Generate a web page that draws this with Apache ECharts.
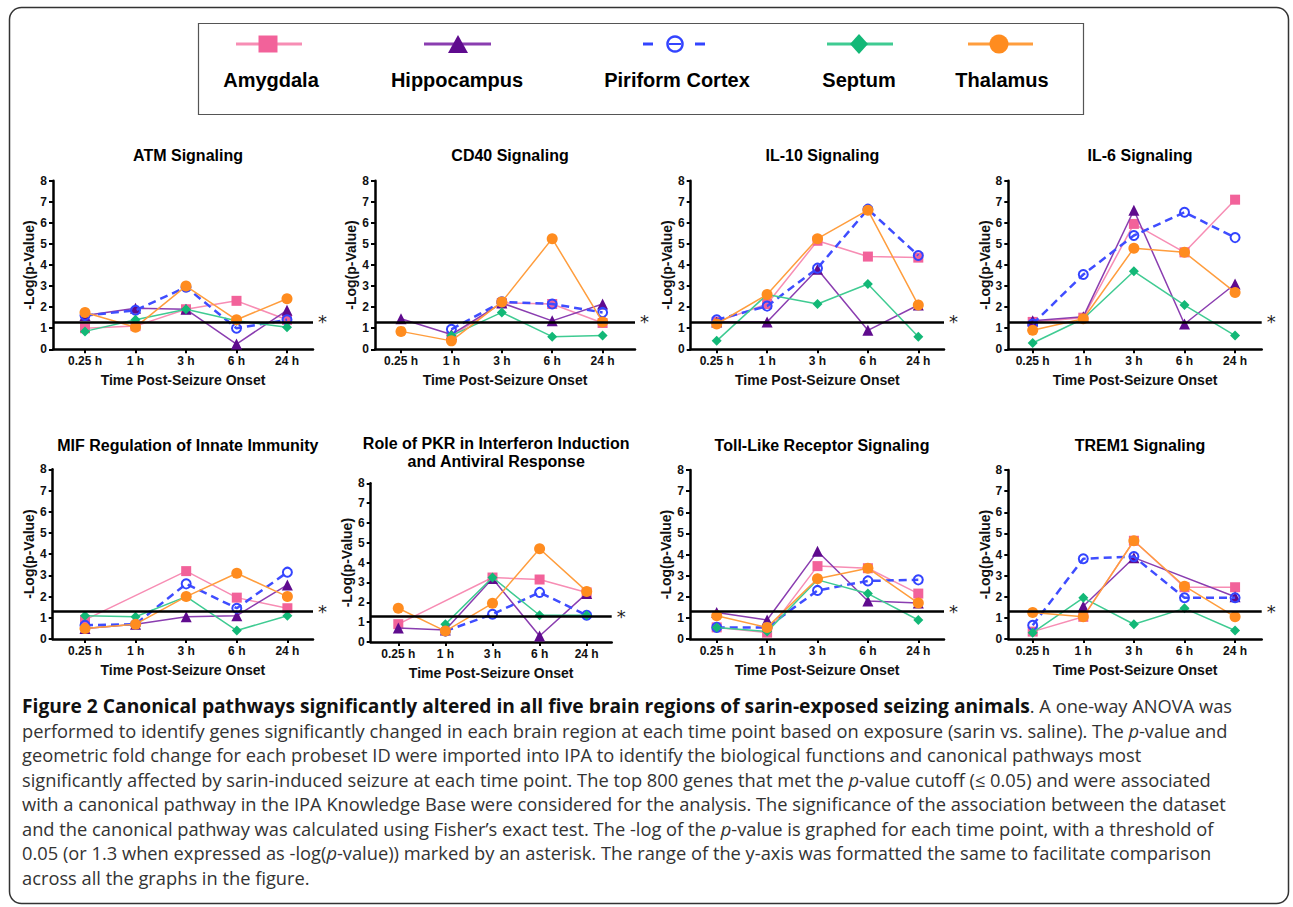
<!DOCTYPE html>
<html><head><meta charset="utf-8">
<script src="https://cdn.jsdelivr.net/npm/echarts@6/dist/echarts.min.js"></script>
<style>html,body{margin:0;padding:0;background:#fff;}#chart{width:1293px;height:907px;}</style>
</head><body><div id="chart"></div>
<script>
const timeLabels = ['0.25 h', '1 h', '3 h', '6 h', '24 h'];
const regionNames = ['Amygdala', 'Hippocampus', 'Piriform Cortex', 'Septum', 'Thalamus'];
const yTickLabels = ['0', '1', '2', '3', '4', '5', '6', '7', '8'];
const thresholdValue = 1.3;
const panelTitles = ['ATM Signaling', 'CD40 Signaling', 'IL-10 Signaling', 'IL-6 Signaling',
  'MIF Regulation of Innate Immunity', 'Role of PKR in Interferon Induction\nand Antiviral Response',
  'Toll-Like Receptor Signaling', 'TREM1 Signaling'];
const xAxisTitle = 'Time Post-Seizure Onset';
const yAxisTitle = '-Log(p-Value)';

// row order: Amygdala, Hippocampus, Piriform Cortex, Septum, Thalamus
const atmSignaling = [
  [1.0, 1.1, 1.9, 2.3, 1.4],
  [1.6, 1.95, 1.9, 0.25, 1.85],
  [1.6, 1.85, 2.95, 1.0, 1.4],
  [0.85, 1.4, 1.9, 1.35, 1.05],
  [1.75, 1.05, 3.0, 1.4, 2.4]
];
const cd40Signaling = [
  [null, 0.6, 2.2, 2.15, 1.25],
  [1.45, 0.7, 2.2, 1.35, 2.15],
  [null, 0.95, 2.25, 2.15, 1.75],
  [null, 0.65, 1.75, 0.6, 0.65],
  [0.85, 0.4, 2.25, 5.25, 1.3]
];
const il10Signaling = [
  [1.3, 2.15, 5.15, 4.4, 4.35],
  [1.3, 1.3, 3.8, 0.9, 2.1],
  [1.4, 2.05, 3.85, 6.65, 4.45],
  [0.4, 2.6, 2.15, 3.1, 0.6],
  [1.2, 2.6, 5.25, 6.6, 2.1]
];
const il6Signaling = [
  [1.3, 1.5, 5.95, 4.6, 7.1],
  [1.35, 1.55, 6.6, 1.2, 3.1],
  [1.2, 3.55, 5.4, 6.5, 5.3],
  [0.3, 1.45, 3.7, 2.1, 0.65],
  [0.9, 1.45, 4.8, 4.6, 2.7]
];
const mifRegulation = [
  [0.9, null, 3.2, 1.95, 1.45],
  [0.5, 0.7, 1.05, 1.1, 2.55],
  [0.65, 0.7, 2.6, 1.45, 3.15],
  [1.1, 1.05, 2.0, 0.4, 1.1],
  [0.5, 0.7, 2.0, 3.1, 2.0]
];
const pkrRole = [
  [0.9, null, 3.25, 3.15, 2.5],
  [0.7, 0.6, 3.2, 0.3, 2.45],
  [null, 0.55, 1.4, 2.5, 1.35],
  [null, 0.9, 3.25, 1.35, 1.35],
  [1.7, 0.55, 1.95, 4.7, 2.55]
];
const tollLikeReceptor = [
  [0.55, 0.3, 3.45, 3.35, 2.15],
  [1.25, 0.9, 4.15, 1.8, 1.7],
  [0.55, 0.55, 2.3, 2.75, 2.8],
  [0.55, 0.35, 2.8, 2.15, 0.9],
  [1.1, 0.55, 2.85, 3.35, 1.7]
];
const trem1Signaling = [
  [0.35, 1.05, 4.65, 2.45, 2.45],
  [null, 1.55, 3.85, null, 2.0],
  [0.65, 3.8, 3.9, 1.95, 1.95],
  [0.3, 1.95, 0.7, 1.45, 0.4],
  [1.25, 1.05, 4.65, 2.5, 1.05]
];
const panelData = [atmSignaling, cd40Signaling, il10Signaling, il6Signaling,
  mifRegulation, pkrRole, tollLikeReceptor, trem1Signaling];

const captionLines = [
  [['b', 'Figure 2 Canonical pathways significantly altered in all five brain regions of sarin-exposed seizing animals'], ['n', '. A one-way ANOVA was']],
  [['n', 'performed to identify genes significantly changed in each brain region at each time point based on exposure (sarin vs. saline). The '], ['i', 'p'], ['n', '-value and']],
  [['n', 'geometric fold change for each probeset ID were imported into IPA to identify the biological functions and canonical pathways most']],
  [['n', 'significantly affected by sarin-induced seizure at each time point. The top 800 genes that met the '], ['i', 'p'], ['n', '-value cutoff (\u2264 0.05) and were associated']],
  [['n', 'with a canonical pathway in the IPA Knowledge Base were considered for the analysis. The significance of the association between the dataset']],
  [['n', 'and the canonical pathway was calculated using Fisher\u2019s exact test. The -log of the '], ['i', 'p'], ['n', '-value is graphed for each time point, with a threshold of']],
  [['n', '0.05 (or 1.3 when expressed as -log('], ['i', 'p'], ['n', '-value)) marked by an asterisk. The range of the y-axis was formatted the same to facilitate comparison']],
  [['n', 'across all the graphs in the figure.']]
];

// ---------- styles & layout ----------
const FONT = "'Liberation Sans', Arial, sans-serif";
const CAPFONT = "'Open Sans', 'Noto Sans', sans-serif";
const CAPSIZE_BOLD = 19.2;
const CAPSIZE = 18.3;
const regionStyles = [
  { symbol: 'rect', size: 10, marker: '#F2629A', line: '#F78DB4', width: 1.5, type: 'solid', hollow: false },
  { symbol: 'triangle', size: 11, marker: '#5F0B8E', line: '#8A3DB0', width: 1.5, type: 'solid', hollow: false },
  { symbol: 'circle', size: 9, marker: '#3344FF', line: '#3F4DFF', width: 2.5, type: [8, 5], hollow: true },
  { symbol: 'diamond', size: 10, marker: '#13B877', line: '#3FCB92', width: 1.5, type: 'solid', hollow: false },
  { symbol: 'circle', size: 11, marker: '#FF8C1F', line: '#FF9D3D', width: 1.5, type: 'solid', hollow: false }
];
const gridLayouts = [
  { left: 53, top: 180.7, width: 260, height: 168.6, xMin: -0.634, xMax: 4.515, titleTop: 141 },
  { left: 375, top: 180.7, width: 260, height: 168.6, xMin: -0.516, xMax: 4.643, titleTop: 141 },
  { left: 690.7, top: 180.7, width: 253.3, height: 168.6, xMin: -0.516, xMax: 4.51, titleTop: 141 },
  { left: 1008.3, top: 180.7, width: 253.4, height: 168.6, xMin: -0.482, xMax: 4.526, titleTop: 141 },
  { left: 52.7, top: 469.3, width: 260.3, height: 169.7, xMin: -0.638, xMax: 4.506, titleTop: 431 },
  { left: 370.7, top: 483.3, width: 241, height: 158.7, xMin: -0.586, xMax: 4.531, titleTop: 429 },
  { left: 690, top: 470, width: 254, height: 169, xMin: -0.53, xMax: 4.51, titleTop: 431 },
  { left: 1008.3, top: 470, width: 253.4, height: 169, xMin: -0.482, xMax: 4.526, titleTop: 431 }
];
const tickPositions = timeLabels.map((_, i) => i);

const grids = [], xAxes = [], yAxes = [], titles = [], series = [];
gridLayouts.forEach((g, p) => {
  grids.push({ left: g.left, top: g.top, width: g.width, height: g.height, containLabel: false, outerBoundsMode: 'none' });
  titles.push({
    text: panelTitles[p], left: g.left + g.width / 2, top: g.titleTop, textAlign: 'center',
    textStyle: { fontFamily: FONT, fontWeight: 'bold', fontSize: 16, color: '#000', lineHeight: 18 }
  });
  xAxes.push({
    type: 'value', gridIndex: p, min: g.xMin, max: g.xMax,
    name: xAxisTitle, nameLocation: 'middle', nameGap: 24,
    nameTextStyle: { fontFamily: FONT, fontWeight: 'bold', fontSize: 14, color: '#111' },
    axisLine: { show: true, onZero: false, lineStyle: { color: '#000', width: 2.5 } },
    axisTick: { show: true, customValues: tickPositions, length: 4, lineStyle: { color: '#000', width: 2 } },
    axisLabel: { customValues: tickPositions, margin: 6, formatter: v => timeLabels[Math.round(v)],
      fontFamily: FONT, fontWeight: 'bold', fontSize: 12, color: '#111' },
    splitLine: { show: false }
  });
  yAxes.push({
    type: 'value', gridIndex: p, min: 0, max: 8, interval: 1,
    name: yAxisTitle, nameLocation: 'middle', nameRotate: 90, nameGap: 9,
    nameTextStyle: { fontFamily: FONT, fontWeight: 'bold', fontSize: 14, color: '#111' },
    axisLine: { show: true, onZero: false, lineStyle: { color: '#000', width: 2.5 } },
    axisTick: { show: true, length: 4, lineStyle: { color: '#000', width: 2 } },
    axisLabel: { margin: 6, formatter: v => yTickLabels[Math.round(v)], fontFamily: FONT, fontWeight: 'bold', fontSize: 12, color: '#111' },
    splitLine: { show: false }
  });
  panelData[p].forEach((vals, r) => {
    const st = regionStyles[r];
    const s = {
      type: 'line', name: regionNames[r], xAxisIndex: p, yAxisIndex: p,
      data: vals.map((v, i) => [i, v]), connectNulls: true,
      symbol: st.symbol, symbolSize: st.size, showAllSymbol: true,
      lineStyle: { color: st.line, width: st.width, type: st.type },
      itemStyle: st.hollow ? { color: 'rgba(255,255,255,0)', borderColor: st.marker, borderWidth: 2 } : { color: st.marker },
      emphasis: { disabled: true }, animation: false, z: 2 + r
    };
    if (r === 0) {
      s.markLine = {
        silent: true, symbol: ['none', 'none'], animation: false, z: 10,
        lineStyle: { color: '#000', width: 2.5, type: 'solid' },
        label: { show: true, position: 'end', formatter: '*', fontSize: 18, color: '#222', fontFamily: "'DejaVu Sans'", distance: 5 },
        data: [{ yAxis: thresholdValue }]
      };
    }
    series.push(s);
  });
});

// legend (graphic)
const legendItems = [
  { x0: 236, x1: 302, mx: 268, tx: 271 },
  { x0: 424, x1: 491, mx: 458, tx: 457 },
  { x0: 643, x1: 705, mx: 675, tx: 677 },
  { x0: 827, x1: 893, mx: 859, tx: 859 },
  { x0: 968, x1: 1033, mx: 999, tx: 1002 }
];
const graphics = [];
graphics.push({ type: 'rect', shape: { x: 9.5, y: 7.5, width: 1279, height: 896, r: 12 }, style: { fill: 'none', stroke: '#333', lineWidth: 1.5 }, silent: true });
graphics.push({ type: 'rect', shape: { x: 198.5, y: 23.5, width: 885, height: 91 }, style: { fill: 'none', stroke: '#555', lineWidth: 1.2 }, silent: true });
const ly = 44;
legendItems.forEach((it, r) => {
  const st = regionStyles[r];
  if (st.hollow) {
    graphics.push({ type: 'line', shape: { x1: it.x0, y1: ly, x2: it.x0 + 10, y2: ly }, style: { stroke: st.marker, lineWidth: 3 } });
    graphics.push({ type: 'line', shape: { x1: it.x1 - 10, y1: ly, x2: it.x1, y2: ly }, style: { stroke: st.marker, lineWidth: 3 } });
    graphics.push({ type: 'circle', shape: { cx: it.mx, cy: ly, r: 7.5 }, style: { fill: 'none', stroke: st.marker, lineWidth: 2.5 } });
    graphics.push({ type: 'line', shape: { x1: it.mx - 6, y1: ly, x2: it.mx + 6, y2: ly }, style: { stroke: st.marker, lineWidth: 2 } });
  } else {
    graphics.push({ type: 'line', shape: { x1: it.x0, y1: ly, x2: it.x1, y2: ly }, style: { stroke: st.line, lineWidth: 3 } });
    if (r === 0) graphics.push({ type: 'rect', shape: { x: it.mx - 9.5, y: ly - 8.5, width: 19, height: 17 }, style: { fill: st.marker } });
    if (r === 1) graphics.push({ type: 'polygon', shape: { points: [[it.mx, ly - 9], [it.mx - 10, ly + 9], [it.mx + 10, ly + 9]] }, style: { fill: st.marker } });
    if (r === 3) graphics.push({ type: 'polygon', shape: { points: [[it.mx, ly - 10], [it.mx - 9, ly], [it.mx, ly + 10], [it.mx + 9, ly]] }, style: { fill: st.marker } });
    if (r === 4) graphics.push({ type: 'circle', shape: { cx: it.mx, cy: ly, r: 9.5 }, style: { fill: st.marker } });
  }
  graphics.push({ type: 'text', x: it.tx, y: 80, style: { text: regionNames[r], fontFamily: FONT, fontWeight: 'bold', fontSize: 20, fill: '#000', align: 'center', verticalAlign: 'middle' } });
});

// caption
const captionY = [705, 730, 754.5, 779, 803.5, 828, 852.5, 877];
captionLines.forEach((segs, k) => {
  graphics.push({
    type: 'text', x: 22, y: captionY[k],
    style: {
      text: segs.map(s => '{' + s[0] + '|' + s[1] + '}').join(''),
      align: 'left', verticalAlign: 'middle',
      rich: {
        b: { fontFamily: CAPFONT, fontWeight: 'bold', fontSize: CAPSIZE_BOLD, fill: '#111', color: '#111' },
        n: { fontFamily: CAPFONT, fontSize: CAPSIZE, fill: '#333', color: '#333' },
        i: { fontFamily: CAPFONT, fontStyle: 'italic', fontSize: CAPSIZE, fill: '#333', color: '#333' }
      }
    }
  });
});

const chart = echarts.init(document.getElementById('chart'), null, { renderer: 'svg', width: 1293, height: 907 });
chart.setOption({
  backgroundColor: '#fff', animation: false,
  title: titles, grid: grids, xAxis: xAxes, yAxis: yAxes, series: series, graphic: graphics
});
</script></body></html>
